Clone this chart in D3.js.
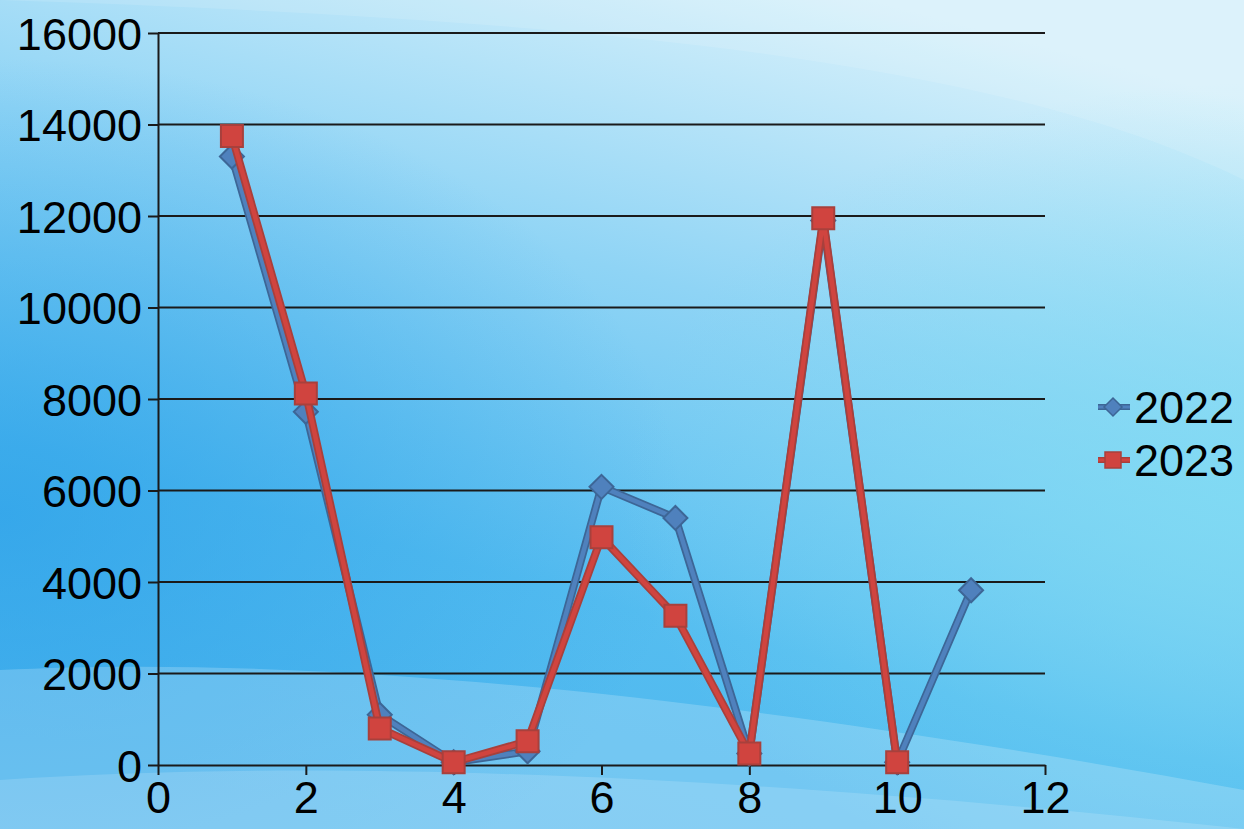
<!DOCTYPE html>
<html>
<head>
<meta charset="utf-8">
<script src="https://cdn.jsdelivr.net/npm/d3@7"></script>
<style>
  body { margin: 0; overflow: hidden; }
  svg { display: block; }
</style>
</head>
<body>
<script>
const xValues = [1, 2, 3, 4, 5, 6, 7, 8, 9, 10, 11];
const values2022 = [13300, 7720, 1100, 60, 300, 6080, 5400, 250, 11900, 60, 3820];
const values2023 = [13750, 8120, 800, 60, 520, 4980, 3260, 250, 11950, 60];
const xTicks = [0, 2, 4, 6, 8, 10, 12];
const yTicks = [0, 2000, 4000, 6000, 8000, 10000, 12000, 14000, 16000];

const series = [
  { name: "2022", values: values2022, fill: "#4f81bd", edge: "#3d6696", shape: "diamond" },
  { name: "2023", values: values2023, fill: "#d0443f", edge: "#a8403c", shape: "square" }
];

const w = 1244;
const h = 829;

const svg = d3.select("body")
  .append("svg")
  .attr("width", w)
  .attr("height", h);

// background
const defs = svg.append("defs");
const bg = defs.append("linearGradient")
  .attr("id", "bg")
  .attr("x1", "0.7").attr("y1", "0")
  .attr("x2", "0.3").attr("y2", "1");
bg.append("stop").attr("offset", "0").attr("stop-color", "#d8f1fb");
bg.append("stop").attr("offset", "0.35").attr("stop-color", "#8fd4f5");
bg.append("stop").attr("offset", "0.7").attr("stop-color", "#55bdf0");
bg.append("stop").attr("offset", "1").attr("stop-color", "#4cb6ee");

const side = defs.append("radialGradient")
  .attr("id", "side")
  .attr("cx", "0").attr("cy", "0.62").attr("r", "0.55");
side.append("stop").attr("offset", "0").attr("stop-color", "#2a9fe8").attr("stop-opacity", 0.7);
side.append("stop").attr("offset", "1").attr("stop-color", "#2a9fe8").attr("stop-opacity", 0);

const rightGlow = defs.append("radialGradient")
  .attr("id", "rightGlow")
  .attr("cx", "1").attr("cy", "0.6").attr("r", "0.5");
rightGlow.append("stop").attr("offset", "0").attr("stop-color", "#7fdcf3").attr("stop-opacity", 0.8);
rightGlow.append("stop").attr("offset", "1").attr("stop-color", "#7fdcf3").attr("stop-opacity", 0);

svg.append("rect").attr("width", w).attr("height", h).attr("fill", "url(#bg)");
svg.append("rect").attr("width", w).attr("height", h).attr("fill", "url(#side)");
svg.append("rect").attr("width", w).attr("height", h).attr("fill", "url(#rightGlow)");

// soft waves near the bottom
svg.append("path")
  .attr("d", "M0,670 C300,655 700,690 1244,790 L1244,829 L0,829 Z")
  .attr("fill", "#ffffff").attr("opacity", 0.2);
svg.append("path")
  .attr("d", "M0,780 C300,760 700,770 1244,829 L0,829 Z")
  .attr("fill", "#ffffff").attr("opacity", 0.15);
svg.append("path")
  .attr("d", "M0,0 L1244,0 L1244,180 C1000,60 600,20 0,0 Z")
  .attr("fill", "#ffffff").attr("opacity", 0.12);

const xScale = d3.scaleLinear().domain([0, 12]).range([158, 1045]);
const yScale = d3.scaleLinear().domain([0, 16000]).range([765, 33]);

// gridlines
svg.append("g")
  .selectAll("line")
  .data(yTicks.filter(d => d > 0))
  .enter()
  .append("line")
  .attr("x1", xScale(0))
  .attr("x2", xScale(12))
  .attr("y1", d => yScale(d))
  .attr("y2", d => yScale(d))
  .attr("stroke", "#1a1a1a")
  .attr("stroke-width", 2);

const xAxis = d3.axisBottom(xScale).tickValues(xTicks).tickFormat(d3.format("d"))
  .tickSize(10).tickSizeOuter(0).tickPadding(6);
const yAxis = d3.axisLeft(yScale).tickValues(yTicks).tickFormat(d3.format("d"))
  .tickSize(10).tickSizeOuter(0).tickPadding(6);

const gx = svg.append("g")
  .attr("transform", "translate(0," + yScale(0) + ")")
  .call(xAxis);
const gy = svg.append("g")
  .attr("transform", "translate(" + xScale(0) + ",0)")
  .call(yAxis);

[gx, gy].forEach(g => {
  g.select(".domain").attr("stroke", "#1a1a1a").attr("stroke-width", 2);
  g.selectAll(".tick line").attr("stroke", "#1a1a1a").attr("stroke-width", 2);
  g.selectAll(".tick text")
    .attr("fill", "#000")
    .style("font-family", "'Liberation Sans', Arial, sans-serif")
    .style("font-size", "45px");
});
gx.selectAll(".tick text").attr("dy", "0.72em");
gy.selectAll(".tick text").attr("dy", "0.36em").attr("x", -16);

const line = d3.line()
  .x((d, i) => xScale(xValues[i]))
  .y(d => yScale(d));

const diamond = s => `M0,${-s} L${s},0 L0,${s} L${-s},0 Z`;
const square = s => `M${-s},${-s} H${s} V${s} H${-s} Z`;

series.forEach(s => {
  const g = svg.append("g");
  g.append("path")
    .datum(s.values)
    .attr("d", line)
    .attr("fill", "none")
    .attr("stroke", s.edge)
    .attr("stroke-width", 8)
    .attr("stroke-linejoin", "round");
  g.append("path")
    .datum(s.values)
    .attr("d", line)
    .attr("fill", "none")
    .attr("stroke", s.fill)
    .attr("stroke-width", 4.5)
    .attr("stroke-linejoin", "round");
  g.selectAll(".mk")
    .data(s.values)
    .enter()
    .append("path")
    .attr("class", "mk")
    .attr("transform", (d, i) => "translate(" + xScale(xValues[i]) + "," + yScale(d) + ")")
    .attr("d", s.shape === "diamond" ? diamond(12) : square(11))
    .attr("fill", s.fill)
    .attr("stroke", s.edge)
    .attr("stroke-width", 2);
});

// legend
const legend = svg.append("g");
series.forEach((s, i) => {
  const y = 407 + i * 53;
  legend.append("line")
    .attr("x1", 1098).attr("x2", 1130)
    .attr("y1", y).attr("y2", y)
    .attr("stroke", s.edge).attr("stroke-width", 6);
  legend.append("line")
    .attr("x1", 1098).attr("x2", 1130)
    .attr("y1", y).attr("y2", y)
    .attr("stroke", s.fill).attr("stroke-width", 3);
  legend.append("path")
    .attr("transform", "translate(1113," + y + ")")
    .attr("d", s.shape === "diamond" ? diamond(9) : square(8))
    .attr("fill", s.fill)
    .attr("stroke", s.edge)
    .attr("stroke-width", 1.5);
  legend.append("text")
    .attr("x", 1134)
    .attr("y", y)
    .attr("dy", "0.36em")
    .style("font-family", "'Liberation Sans', Arial, sans-serif")
    .style("font-size", "45px")
    .attr("fill", "#000")
    .text(s.name);
});
</script>
</body>
</html>
